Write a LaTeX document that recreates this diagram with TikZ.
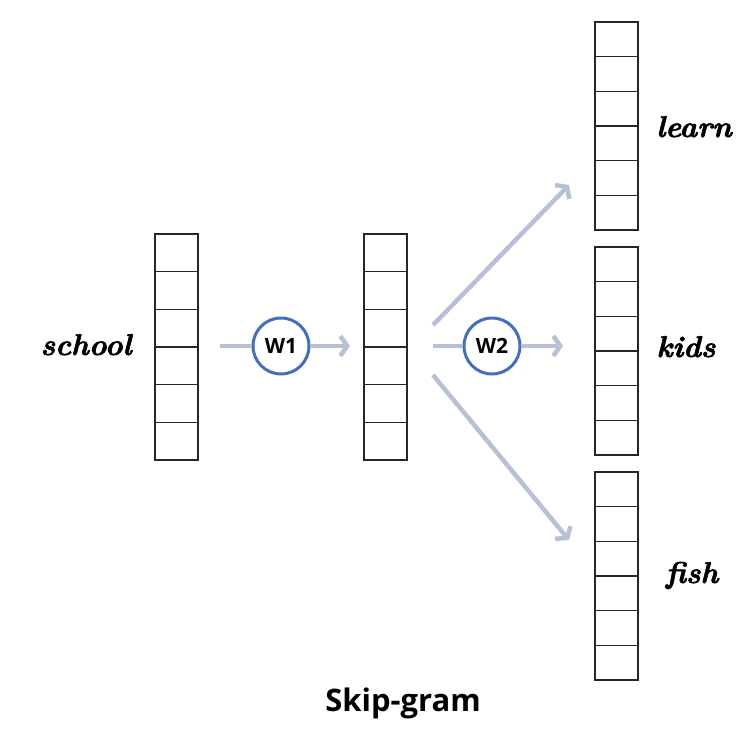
\documentclass[tikz,border=0pt]{standalone}
\usepackage{fontspec}
\usetikzlibrary{arrows.meta}
\newfontfamily\sansfnt{Open Sans}
\newfontfamily\wordfnt{Latin Modern Roman}[BoldItalicFeatures={FakeBold=2}]
\definecolor{wblue}{RGB}{68,110,190}
\definecolor{arrowc}{RGB}{182,193,214}
\begin{document}
\begin{tikzpicture}[x=1pt,y=-1pt,
  vec/.style={draw=black!85, line width=1.2pt, minimum width=43pt, inner sep=0pt, outer sep=0pt},
  wt/.style={circle, draw=wblue, line width=3pt, minimum size=56pt, inner sep=0pt, fill=white,
    font=\sansfnt\bfseries\fontsize{21}{24}\selectfont},
  flow/.style={draw=arrowc, line width=4.5pt, -{Straight Barb[length=7pt,width=20pt]}},
  flowin/.style={draw=arrowc, line width=4.5pt},
  word/.style={font=\wordfnt\bfseries\itshape\fontsize{30}{34}\selectfont, anchor=base, inner sep=0pt},
  title/.style={font=\sansfnt\bfseries\fontsize{31}{34}\selectfont, inner sep=0pt}]
\useasboundingbox (0,0) rectangle (754,737);
% vectors
\node[vec, minimum height=226pt] (v1) at (176.5,347) {};
\node[vec, minimum height=226pt] (v2) at (385.5,347) {};
\node[vec, minimum height=208pt] (v3) at (616.5,126) {};
\node[vec, minimum height=208pt] (v4) at (616.5,351) {};
\node[vec, minimum height=208pt] (v5) at (616.5,576) {};
\foreach \v/\h in {v1/37.667,v2/37.667,v3/34.667,v4/34.667,v5/34.667}{
  \foreach \i in {1,...,5}{
    \draw[black!85, line width=1.2pt] (\v.north west) ++(0,\i*\h) -- ++(43,0);
  }
}
% labels
\node[word] (school) at (86,355) {school};
\node[word] (learn) at (694,137) {learn};
\node[word] (kids) at (686,357) {kids};
\node[word] (fish) at (692,583) {fish};
% weights
\node[wt] (w1) at (281,346) {W1};
\node[wt] (w2) at (492,346) {W2};
% arrow end points
\coordinate (a1s) at (220,346);
\coordinate (a1e) at (350,346);
\coordinate (a2s) at (433,346);
\coordinate (a2e) at (563,346);
\coordinate (ups) at (433,325);
\coordinate (upe) at (569,185);
\coordinate (dns) at (433,375);
\coordinate (dne) at (569,540);
\draw[flowin] (a1s) -- (w1.west);
\draw[flow] (w1.east) -- (a1e);
\draw[flowin] (a2s) -- (w2.west);
\draw[flow] (w2.east) -- (a2e);
\draw[flow] (ups) -- (upe);
\draw[flow] (dns) -- (dne);
% title
\node[title] (t) at (403,703) {Skip-gram};
\end{tikzpicture}
\end{document}
